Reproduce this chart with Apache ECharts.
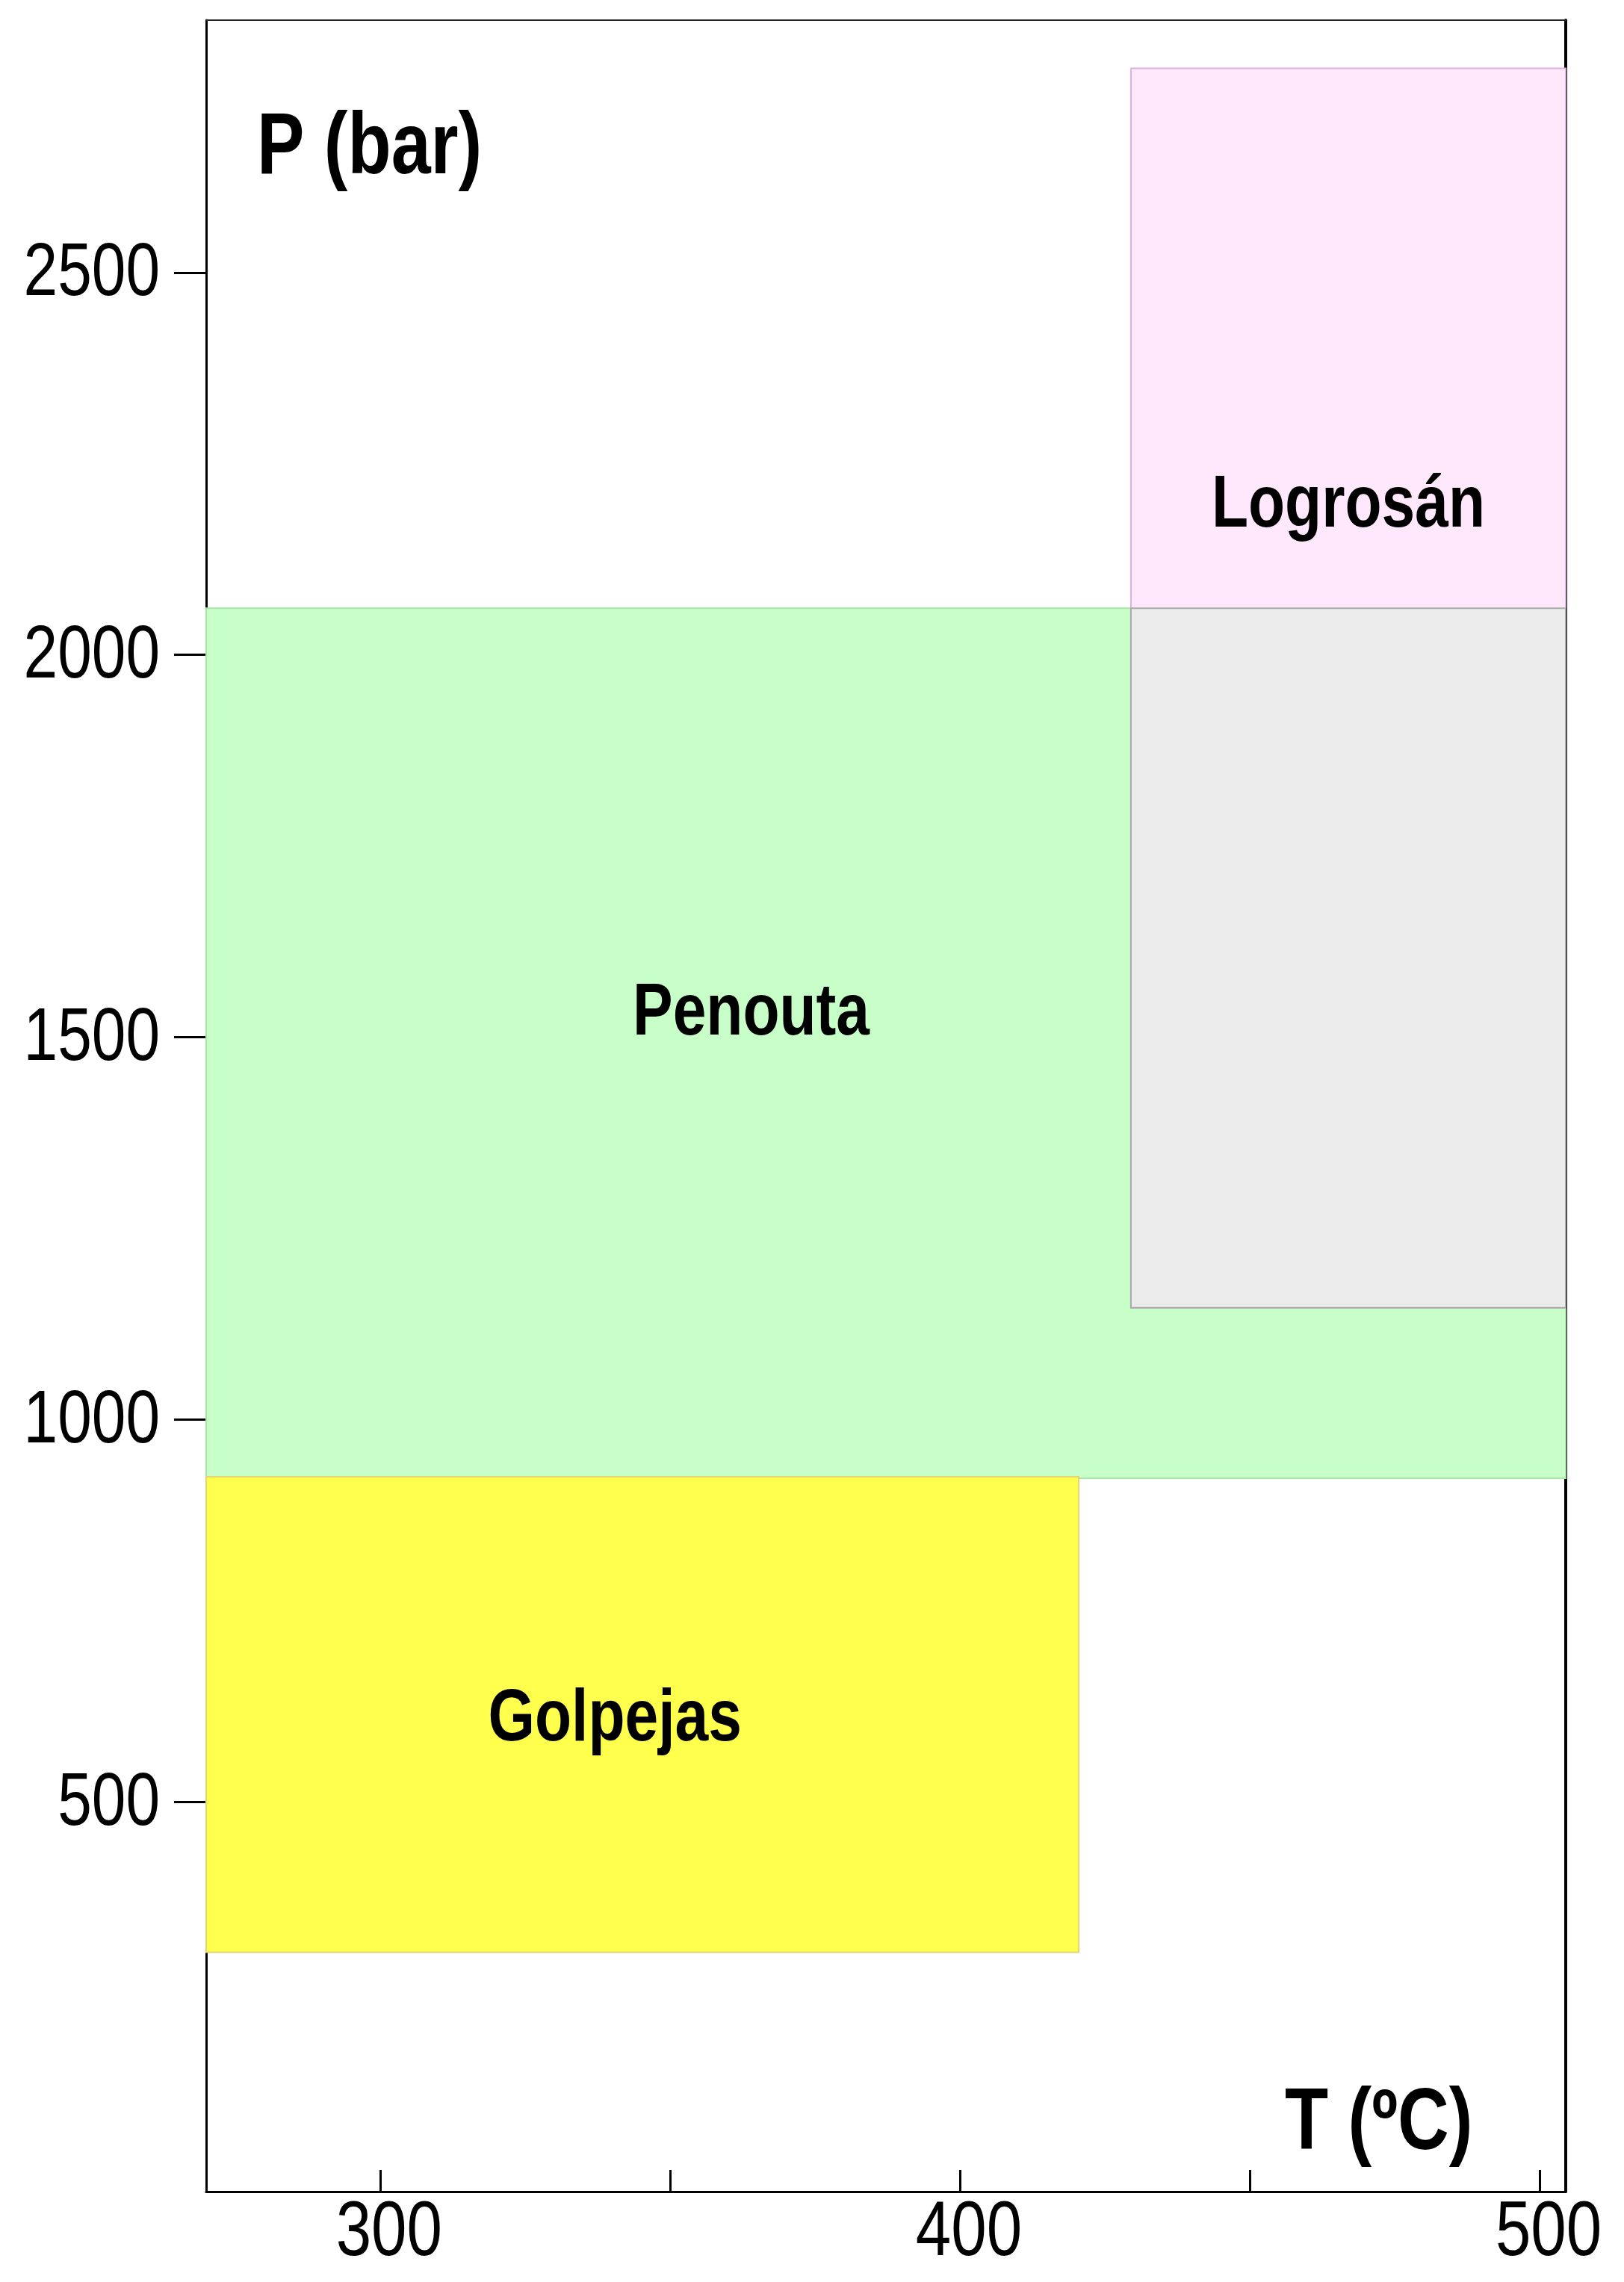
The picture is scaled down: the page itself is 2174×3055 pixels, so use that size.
<!DOCTYPE html>
<html>
<head>
<meta charset="utf-8">
<script src="https://cdn.jsdelivr.net/npm/echarts@6/dist/echarts.min.js"></script>
<style>
html, body { margin: 0; padding: 0; background: #fff; }
#main { width: 2174px; height: 3055px; }
</style>
</head>
<body>
<div id="main"></div>
<script>
// campos P-T de cada yacimiento
var names = ['Penouta', 'Golpejas', 'Logrosán'];
var tMin = [270, 270, 429.5];
var tMax = [505, 420.5, 505];
var pMin = [923, 303, 1146];
var pMax = [2061, 925, 2767];
// donde va el nombre de cada campo (T, P)
var labelT = [364, 340.5, 467];
var labelP = [1530, 606, 2194];
// marcas de los ejes
var xTicks = [300, 350, 400, 450, 500];
var xLabels = [300, 400, 500];
var yTicks = [500, 1000, 1500, 2000, 2500];

var T_MIN = 270, T_MAX = 504.5, P_MIN = -10, P_MAX = 2830;
var FONT = '"Liberation Sans", Arial, sans-serif';
var NARROW = 0.82; // la fuente original es tipo Arial Narrow
var fills = ['#c8ffc8', '#ffff4d', '#ffe8fc'];
var strokes = ['#a6e6a6', '#e6d470', '#ddb0dd'];

function rectItem(fill, stroke) {
  return function (params, api) {
    var p0 = api.coord([api.value(0), api.value(3)]);
    var p1 = api.coord([api.value(1), api.value(2)]);
    var cs = params.coordSys;
    var shape = echarts.graphic.clipRectByRect(
      { x: p0[0], y: p0[1], width: p1[0] - p0[0], height: p1[1] - p0[1] },
      { x: cs.x, y: cs.y, width: cs.width, height: cs.height }
    );
    return shape && {
      type: 'rect',
      shape: shape,
      style: { fill: fill, stroke: stroke, lineWidth: 2 }
    };
  };
}

function narrowText(text, x, y, size, bold, align, vAlign) {
  return {
    type: 'text',
    x: x,
    y: y,
    scaleX: NARROW,
    style: {
      text: text,
      fontSize: size,
      fontWeight: bold ? 'bold' : 'normal',
      fontFamily: FONT,
      fill: '#000',
      align: align,
      verticalAlign: vAlign
    }
  };
}

var series = [];
for (var i = 0; i < names.length; i++) {
  series.push({
    type: 'custom',
    name: names[i],
    renderItem: rectItem(fills[i], strokes[i]),
    encode: { x: [0, 1], y: [2, 3] },
    data: [[tMin[i], tMax[i], pMin[i], pMax[i]]],
    z: 2 + i
  });
}
// solape Penouta / Logrosán en gris
series.push({
  type: 'custom',
  name: 'solape',
  renderItem: rectItem('#ebebeb', '#a9a9a9'),
  encode: { x: [0, 1], y: [2, 3] },
  data: [[Math.max(tMin[0], tMin[2]), Math.min(tMax[0], tMax[2]),
          Math.max(pMin[0], pMin[2]), Math.min(pMax[0], pMax[2])]],
  z: 6
});
// nombres de los campos
series.push({
  type: 'custom',
  name: 'nombres',
  renderItem: function (params, api) {
    var p = api.coord([api.value(0), api.value(1)]);
    return narrowText(names[params.dataIndex], p[0], p[1], 98, true, 'center', 'middle');
  },
  encode: { x: 0, y: 1 },
  data: labelT.map(function (t, k) { return [t, labelP[k]]; }),
  z: 10
});
// etiquetas del eje P
series.push({
  type: 'custom',
  name: 'etiquetasP',
  renderItem: function (params, api) {
    var p = api.coord([api.value(0), api.value(1)]);
    return narrowText(String(api.value(1)), p[0] - 62, p[1] + 3, 100, false, 'right', 'middle');
  },
  encode: { x: 0, y: 1 },
  data: yTicks.map(function (v) { return [T_MIN, v]; }),
  z: 10
});
// etiquetas del eje T
series.push({
  type: 'custom',
  name: 'etiquetasT',
  renderItem: function (params, api) {
    var p = api.coord([api.value(0), api.value(1)]);
    return narrowText(String(api.value(0)), p[0] + 12, p[1] + 56, 104, false, 'center', 'middle');
  },
  encode: { x: 0, y: 1 },
  data: xLabels.map(function (v) { return [v, P_MIN]; }),
  z: 10
});

var chart = echarts.init(document.getElementById('main'));
var option = {
  backgroundColor: '#fff',
  animation: false,
  grid: { left: 276, right: 78, top: 27, bottom: 121, containLabel: false, outerBoundsMode: 'none' },
  xAxis: [{
    type: 'value',
    min: T_MIN,
    max: T_MAX,
    axisLine: { onZero: false, lineStyle: { color: '#000', width: 3 } },
    axisTick: { inside: true, length: 29, customValues: xTicks, lineStyle: { color: '#000', width: 3 } },
    axisLabel: { show: false },
    splitLine: { show: false }
  }, {
    type: 'value',
    position: 'top',
    min: T_MIN,
    max: T_MAX,
    axisLine: { show: true, onZero: false, lineStyle: { color: '#222', width: 2 } },
    axisTick: { show: false },
    axisLabel: { show: false },
    splitLine: { show: false }
  }],
  yAxis: [{
    type: 'value',
    min: P_MIN,
    max: P_MAX,
    axisLine: { show: true, onZero: false, lineStyle: { color: '#000', width: 3 } },
    axisTick: { show: true, length: 43, customValues: yTicks, lineStyle: { color: '#000', width: 3 } },
    axisLabel: { show: false },
    splitLine: { show: false }
  }, {
    type: 'value',
    position: 'right',
    min: P_MIN,
    max: P_MAX,
    axisLine: { show: true, onZero: false, lineStyle: { color: '#000', width: 4 } },
    axisTick: { show: false },
    axisLabel: { show: false },
    splitLine: { show: false }
  }],
  graphic: [
    Object.assign(narrowText('P (bar)', 344, 200, 116, true, 'left', 'middle'), { z: 20 }),
    Object.assign(narrowText('T (ºC)', 1720, 2845, 116, true, 'left', 'middle'), { z: 20 })
  ],
  series: series
};
chart.setOption(option);
</script>
</body>
</html>
